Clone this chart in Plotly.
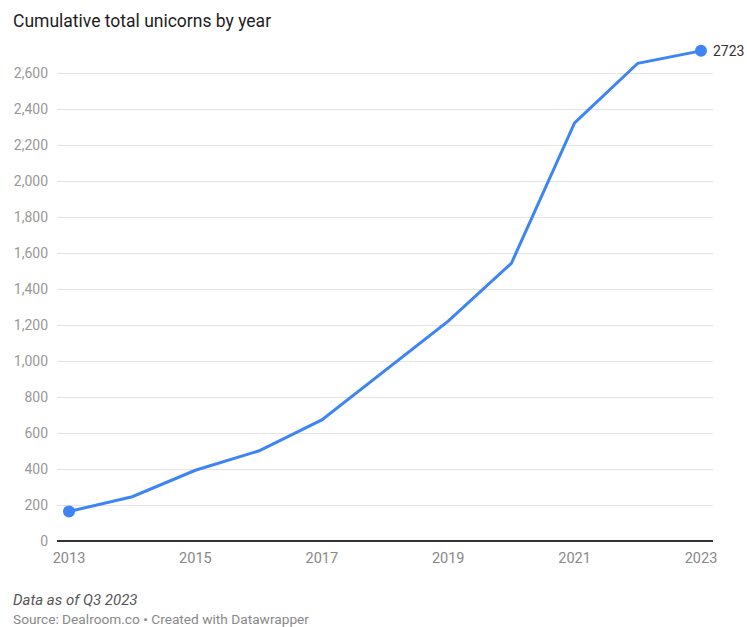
import plotly.graph_objects as go

years = [2013, 2014, 2015, 2016, 2017, 2018, 2019, 2020, 2021, 2022, 2023]
unicorns = [164, 246, 393, 500, 673, 946, 1221, 1543, 2323, 2654, 2723]
y_ticks = [0, 200, 400, 600, 800, 1000, 1200, 1400, 1600, 1800, 2000, 2200, 2400, 2600]
x_ticks = [2013, 2015, 2017, 2019, 2021, 2023]

blue = "#3d85f5"
font = "Roboto"

fig = go.Figure()
fig.add_trace(go.Scatter(
    x=years, y=unicorns, mode="lines",
    line=dict(color=blue, width=3),
    hoverinfo="skip", showlegend=False,
))
fig.add_trace(go.Scatter(
    x=[years[0], years[-1]], y=[unicorns[0], unicorns[-1]], mode="markers",
    marker=dict(color=blue, size=12),
    hoverinfo="skip", showlegend=False, cliponaxis=False,
))

fig.add_annotation(x=years[-1], y=unicorns[-1], text=str(unicorns[-1]),
                   showarrow=False, xanchor="left", yanchor="middle", xshift=10,
                   font=dict(family=font, size=14, color="#333333"))

fig.update_layout(
    width=747, height=627,
    margin=dict(l=57, r=34, t=46, b=86),
    paper_bgcolor="white", plot_bgcolor="white",
    font=dict(family=font),
    title=dict(text="Cumulative total unicorns by year", x=13/747, xanchor="left",
               y=1 - 21/627, yanchor="middle",
               font=dict(family=font, size=17.5, color="#1d1d1d")),
    xaxis=dict(
        range=[2012.81, 2023.19], tickvals=x_ticks, ticktext=[str(v) for v in x_ticks],
        showgrid=False, zeroline=False, showline=False, automargin=False,
        tickfont=dict(family=font, size=14.5, color="#888888"), ticks="",
        ticklabelstandoff=6,
        fixedrange=True,
    ),
    yaxis=dict(
        range=[0, 2750], tickvals=y_ticks, ticktext=[f"{v:,}" for v in y_ticks],
        showgrid=True, gridcolor="#e3e3e3", gridwidth=1,
        zeroline=True, zerolinecolor="#333333", zerolinewidth=1.5,
        showline=False, ticks="", ticklabelstandoff=8, automargin=False,
        tickfont=dict(family=font, size=14, color="#999999"),
        fixedrange=True,
    ),
)

fig.add_annotation(xref="paper", yref="paper", x=-46/656, y=-(600-541)/495,
                   xanchor="left", yanchor="middle", showarrow=False,
                   text="<i>Data as of Q3 2023</i>",
                   font=dict(family=font, size=15, color="#555555"))
fig.add_annotation(xref="paper", yref="paper", x=-46/656, y=-(619-541)/495,
                   xanchor="left", yanchor="middle", showarrow=False,
                   text="Source: Dealroom.co • Created with Datawrapper",
                   font=dict(family=font, size=13.7, color="#888888"))

fig.write_html("out.html", config={"displayModeBar": False},
               post_script="document.body.style.margin='0';document.body.style.overflow='hidden';")
